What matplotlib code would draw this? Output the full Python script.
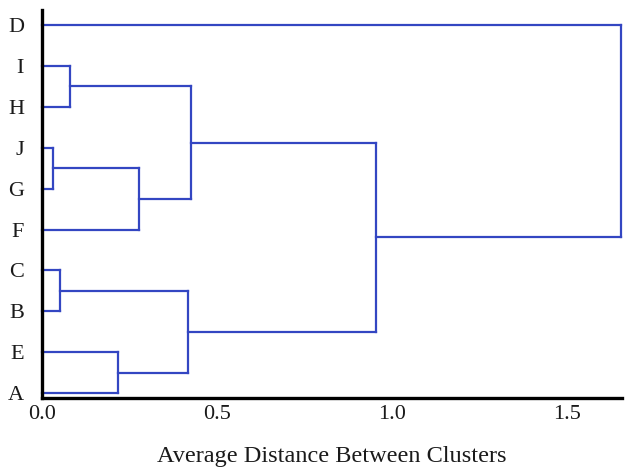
import matplotlib
matplotlib.use("Agg")
import matplotlib.pyplot as plt

# leaves from top to bottom
leaves = ['D', 'I', 'H', 'J', 'G', 'F', 'C', 'B', 'E', 'A']

# merges: children are leaf names or indices of earlier merges
left_nodes = ['J', 'I', 'C', 'E', 0, 1, 2, 5, 'D']
right_nodes = ['G', 'H', 'B', 'A', 'F', 4, 3, 6, 7]
heights = [0.031, 0.08, 0.051, 0.217, 0.277, 0.426, 0.417, 0.954, 1.654]

xticks = [0.0, 0.5, 1.0, 1.5]
xtick_labels = ['0.0', '0.5', '1.0', '1.5']

line_color = '#3346c2'
plt.rcParams['font.family'] = ['Liberation Serif', 'DejaVu Serif']

fig = plt.figure(figsize=(6.34, 4.71), dpi=100)
ax = fig.add_axes([0.0662, 0.155, 0.915, 0.824])

n = len(leaves)
leaf_y = {name: n - 1 - i for i, name in enumerate(leaves)}

def node_pos(node, done):
    if isinstance(node, str):
        return leaf_y[node], 0.0
    return done[node]

done = []
for a, b, h in zip(left_nodes, right_nodes, heights):
    ya, ha = node_pos(a, done)
    yb, hb = node_pos(b, done)
    ax.plot([ha, h], [ya, ya], color=line_color, lw=1.6, clip_on=False,
            solid_capstyle='projecting')
    ax.plot([hb, h], [yb, yb], color=line_color, lw=1.6, clip_on=False,
            solid_capstyle='projecting')
    ax.plot([h, h], [ya, yb], color=line_color, lw=1.6, clip_on=False,
            solid_capstyle='projecting')
    done.append(((ya + yb) / 2, h))

ax.set_xlim(0, 1.657)
ax.set_ylim(-0.12, n - 1 + 0.37)

ax.set_yticks([leaf_y[name] for name in leaves])
ax.set_yticklabels(leaves)
ax.set_xticks(xticks)
ax.set_xticklabels(xtick_labels)
ax.tick_params(length=0, labelsize=16, colors='#1a1a1a', pad=5)
ax.tick_params(axis='y', pad=13)

for side in ['top', 'right']:
    ax.spines[side].set_visible(False)
for side in ['left', 'bottom']:
    ax.spines[side].set_linewidth(2.4)
    ax.spines[side].set_color('black')

ax.set_xlabel('Average Distance Between Clusters', fontsize=17.5,
              color='#1a1a1a', labelpad=16)

fig.savefig('out.png', dpi=100)
